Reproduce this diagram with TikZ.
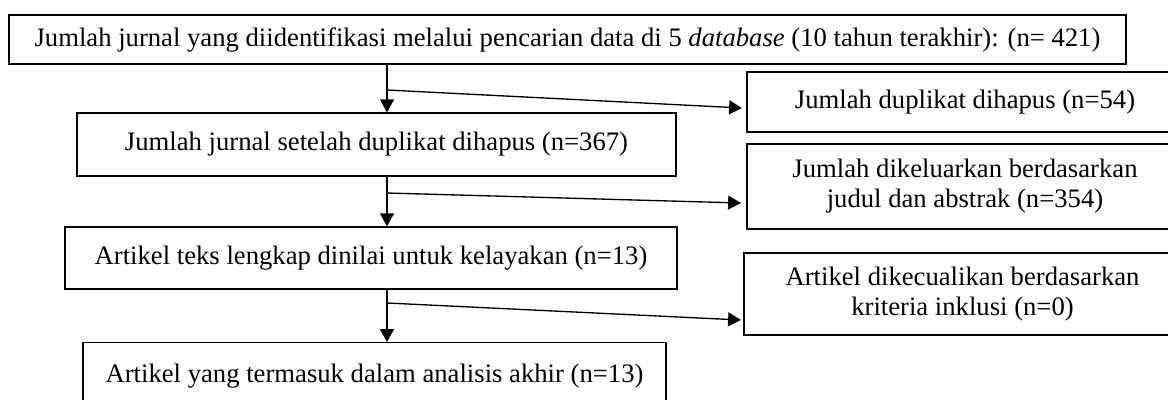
\documentclass[tikz,border=0pt]{standalone}
\usepackage{fontspec}
\setmainfont{Liberation Serif}
\usetikzlibrary{arrows.meta}
\tikzset{
  box/.style 2 args={draw, line width=0.6pt, inner sep=0pt, align=center,
    minimum width=#1*0.45pt, minimum height=#2*0.45pt,
    font=\fontsize{12}{13.5}\selectfont},
  arr/.style={line width=0.6pt, -{Triangle[length=5.8pt, width=6.3pt]}},
}
\begin{document}
\begin{tikzpicture}[x=0.45pt, y=-0.45pt]
\clip (0,0) rectangle (1168,399);
\node[box={1117}{49}, line width=0.9pt] (top) at (567.5,39.5)
  {Jumlah jurnal yang diidentifikasi melalui pencarian data di 5 \textit{database} (10 tahun terakhir): (n= 421)};
\node[box={436}{60}] (dup) at (965,102) {Jumlah duplikat dihapus (n=54)};
\node[box={599}{63}] (b2) at (376.5,144.5) {Jumlah jurnal setelah duplikat dihapus (n=367)};
\node[box={436}{85}] (kel) at (965,186.5) {Jumlah dikeluarkan berdasarkan\\judul dan abstrak (n=354)};
\node[box={612}{62}] (b3) at (371,258) {Artikel teks lengkap dinilai untuk kelayakan (n=13)};
\node[box={437}{82}] (kec) at (962.5,294) {Artikel dikecualikan berdasarkan\\kriteria inklusi (n=0)};
\node[box={583}{66}, anchor=north] (b4) at (374.5,342) {\raisebox{1.5pt}{Artikel yang termasuk dalam analisis akhir (n=13)}};

\coordinate (sp) at (387,0);
\coordinate (d1) at (387,90);
\coordinate (e1) at (742,108);
\coordinate (d2) at (387,193);
\coordinate (e2) at (741,203);
\coordinate (d3) at (387,303);
\coordinate (e3) at (741,320);

\draw[arr] (top.south -| sp) -- (b2.north -| sp);
\draw[arr] (b2.south -| sp) -- (b3.north -| sp);
\draw[arr] (b3.south -| sp) -- (b4.north -| sp);
\draw[arr] (d1) -- (e1);
\draw[arr] (d2) -- (e2);
\draw[arr] (d3) -- (e3);
\end{tikzpicture}
\end{document}
